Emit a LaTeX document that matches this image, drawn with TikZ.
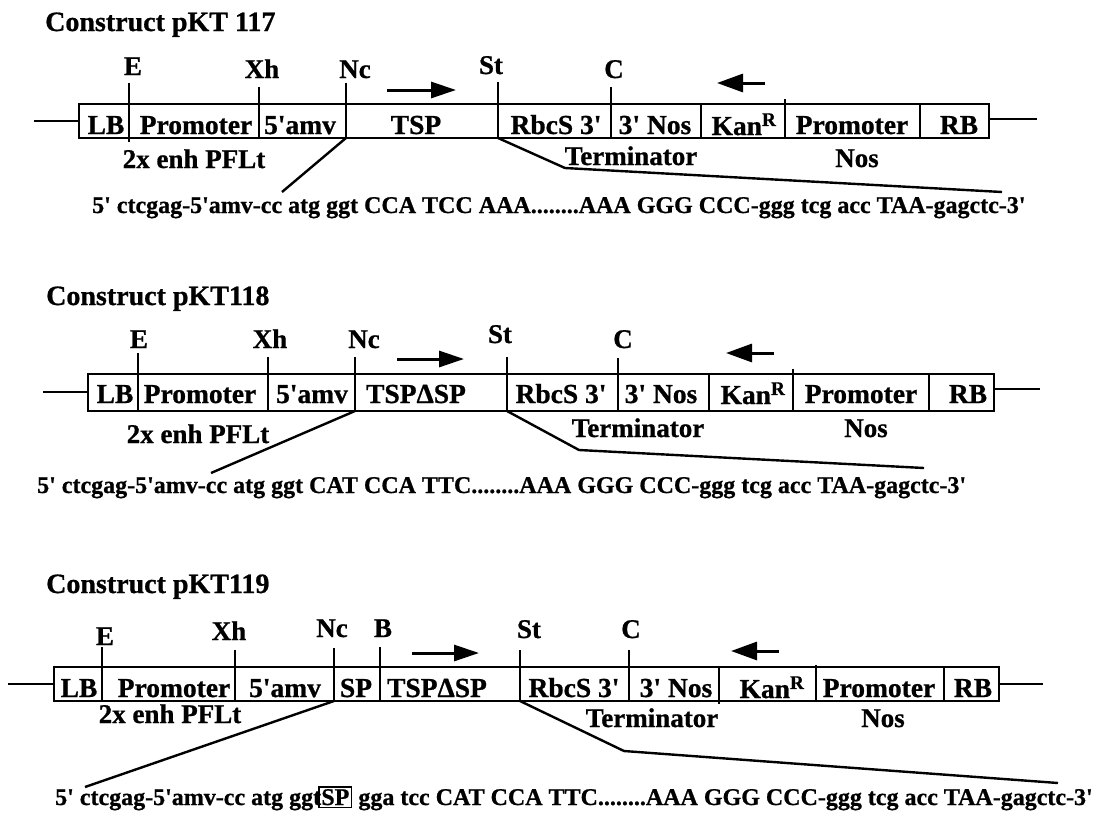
\documentclass[tikz,border=0pt]{standalone}
\usepackage{fontspec}
\usepackage{tikz}
\usetikzlibrary{arrows.meta}
\newfontfamily\labfont{Liberation Serif}[BoldFeatures={FakeBold=0.8}]

\begin{document}
\begin{tikzpicture}[x=1pt, y=-1pt]
\tikzstyle{heading} = [anchor=base west, inner sep=0pt, font=\labfont\bfseries\fontsize{28}{32}\selectfont]
\tikzstyle{site} = [anchor=base, inner sep=0pt, font=\labfont\bfseries\fontsize{27}{30}\selectfont]
\tikzstyle{part} = [anchor=base, inner sep=0pt, font=\labfont\bfseries\fontsize{27.5}{30}\selectfont]
\tikzstyle{region} = [anchor=base, inner sep=0pt, font=\labfont\bfseries\fontsize{27}{30}\selectfont]
\tikzstyle{seq} = [anchor=base west, inner sep=0pt, font=\labfont\bfseries\fontsize{24}{28}\selectfont]
\tikzstyle{map} = [draw, line width=2pt]
\tikzstyle{zoomline} = [draw, line width=2.4pt]
\tikzstyle{fwd} = [draw, -{Triangle[length=25pt,width=16pt]}, line width=3pt]
\tikzstyle{rev} = [draw, -{Triangle[length=26pt,width=18pt]}, line width=3pt]

\useasboundingbox (0,0) rectangle (1105,814);
\setlength{\fboxsep}{1.5pt}
\setlength{\fboxrule}{1.6pt}

% ---------------- Construct pKT 117 ----------------
\node [heading] (TITLE_A) at (45,31) {Construct pKT 117};

% Restriction sites
\node [site] (E_A) at (133,75) {E};
\node [site] (XH_A) at (262,78) {Xh};
\node [site] (NC_A) at (355,78) {Nc};
\node [site] (ST_A) at (491,74) {St};
\node [site] (C_A) at (614,78) {C};

% Backbone and boxes
\draw [map] (34,121) -- (79,121);
\draw [map] (989,119) -- (1037,119);
\draw [map] (79,104) rectangle (989,138);
\draw [map] (129,83) -- (129,142);
\draw [map] (259,87) -- (259,138);
\draw [map] (346,83) -- (346,138);
\draw [map] (498,82) -- (498,138);
\draw [map] (611,87) -- (611,138);
\draw [map] (701,104) -- (701,138);
\draw [map] (785,99) -- (785,138);
\draw [map] (920,104) -- (920,138);

% Parts
\node [part] (LB_A) at (106,134) {LB};
\node [part] (PRO_A) at (196,134) {Promoter};
\node [part] (AMV_A) at (300,134) {5'amv};
\node [part] (TSP_A) at (416,134) {TSP};
\node [part] (RBCS_A) at (556,134) {RbcS 3'};
\node [part] (NOS3_A) at (655,134) {3' Nos};
\node [part] (KAN_A) at (744,135) {Kan\textsuperscript{R}};
\node [part] (PRO2_A) at (852,134) {Promoter};
\node [part] (RB_A) at (959,134) {RB};

\node [region] (ENH_A) at (194,168) {2x enh PFLt};
\node [region] (TERM_A) at (631,165) {Terminator};
\node [region] (NOSP_A) at (857,167) {Nos};

% Orientation arrows
\coordinate (F0_A) at (387,90); \coordinate (F1_A) at (456,90);
\coordinate (R0_A) at (765,83); \coordinate (R1_A) at (717,83);
\draw [fwd] (F0_A) -- (F1_A);
\draw [rev] (R0_A) -- (R1_A);

% Sequence
\node [seq] (SEQ_A) at (92,213) {5' ctcgag-5'amv-cc atg ggt CCA TCC AAA........AAA GGG CCC-ggg tcg acc TAA-gagctc-3'};
\coordinate (NCB_A) at (346,138); \coordinate (NCE_A) at (282,192);
\coordinate (STB_A) at (498,138); \coordinate (STK_A) at (565,168); \coordinate (STE_A) at (1002,192);
\draw [zoomline] (NCB_A) -- (NCE_A);
\draw [zoomline] (STB_A) -- (STK_A) -- (STE_A);

% ---------------- Construct pKT118 ----------------
\node [heading] (TITLE_B) at (46,305) {Construct pKT118};

% Restriction sites
\node [site] (E_B) at (139,348) {E};
\node [site] (XH_B) at (270,348) {Xh};
\node [site] (NC_B) at (364,348) {Nc};
\node [site] (ST_B) at (500,343) {St};
\node [site] (C_B) at (623,348) {C};

% Backbone and boxes
\draw [map] (43,392) -- (88,392);
\draw [map] (994,389) -- (1040,389);
\draw [map] (88,374) rectangle (994,411);
\draw [map] (137.5,353) -- (137.5,411);
\draw [map] (268,357) -- (268,411);
\draw [map] (355,357) -- (355,411);
\draw [map] (507,357) -- (507,411);
\draw [map] (618,358) -- (618,411);
\draw [map] (709,374) -- (709,411);
\draw [map] (793,369) -- (793,411);
\draw [map] (929,374) -- (929,411);

% Parts
\node [part] (LB_B) at (115,403) {LB};
\node [part] (PRO_B) at (200,403) {Promoter};
\node [part] (AMV_B) at (312,403) {5'amv};
\node [part] (TSP_B) at (416,403) {TSPΔSP};
\node [part] (RBCS_B) at (561,403) {RbcS 3'};
\node [part] (NOS3_B) at (661,403) {3' Nos};
\node [part] (KAN_B) at (753,404) {Kan\textsuperscript{R}};
\node [part] (PRO2_B) at (861,403) {Promoter};
\node [part] (RB_B) at (968,403) {RB};

\node [region] (ENH_B) at (198,443) {2x enh PFLt};
\node [region] (TERM_B) at (638,437) {Terminator};
\node [region] (NOSP_B) at (866,437) {Nos};

% Orientation arrows
\coordinate (F0_B) at (397,359); \coordinate (F1_B) at (464,359);
\coordinate (R0_B) at (774,353); \coordinate (R1_B) at (726,353);
\draw [fwd] (F0_B) -- (F1_B);
\draw [rev] (R0_B) -- (R1_B);

% Sequence
\node [seq] (SEQ_B) at (37,493) {5' ctcgag-5'amv-cc atg ggt CAT CCA TTC........AAA GGG CCC-ggg tcg acc TAA-gagctc-3'};
\coordinate (NCB_B) at (355,411); \coordinate (NCE_B) at (211,473);
\coordinate (STB_B) at (507,411); \coordinate (STK_B) at (579,450); \coordinate (STE_B) at (924,468);
\draw [zoomline] (NCB_B) -- (NCE_B);
\draw [zoomline] (STB_B) -- (STK_B) -- (STE_B);

% ---------------- Construct pKT119 ----------------
\node [heading] (TITLE_C) at (46,593) {Construct pKT119};

% Restriction sites
\node [site] (E_C) at (105,645) {E};
\node [site] (XH_C) at (229,640) {Xh};
\node [site] (NC_C) at (332,637) {Nc};
\node [site] (B_C) at (383,637) {B};
\node [site] (ST_C) at (529,638) {St};
\node [site] (C_C) at (631,638) {C};

% Backbone and boxes
\draw [map] (8,684) -- (54,684);
\draw [map] (999,684) -- (1043,684);
\draw [map] (54,667) rectangle (999,701);
\draw [map] (102,647) -- (102,701);
\draw [map] (235,650) -- (235,701);
\draw [map] (334,648) -- (334,701);
\draw [map] (380,647) -- (380,701);
\draw [map] (520,650) -- (520,701);
\draw [map] (629,650) -- (629,701);
\draw [map] (719,667) -- (719,704);
\draw [map] (816,665) -- (816,701);
\draw [map] (944,667) -- (944,701);

% Parts
\node [part] (LB_C) at (79,697) {LB};
\node [part] (PRO_C) at (174,697) {Promoter};
\node [part] (AMV_C) at (285,697) {5'amv};
\node [part] (SP_C) at (356,697) {SP};
\node [part] (TSP_C) at (437,697) {TSPΔSP};
\node [part] (RBCS_C) at (574,697) {RbcS 3'};
\node [part] (NOS3_C) at (676,697) {3' Nos};
\node [part] (KAN_C) at (772,698) {Kan\textsuperscript{R}};
\node [part] (PRO2_C) at (879,697) {Promoter};
\node [part] (RB_C) at (973,697) {RB};

\node [region] (ENH_C) at (170,723) {2x enh PFLt};
\node [region] (TERM_C) at (652,727) {Terminator};
\node [region] (NOSP_C) at (883,727) {Nos};

% Orientation arrows
\coordinate (F0_C) at (412,653); \coordinate (F1_C) at (479,653);
\coordinate (R0_C) at (779,651); \coordinate (R1_C) at (731,651);
\draw [fwd] (F0_C) -- (F1_C);
\draw [rev] (R0_C) -- (R1_C);

% Sequence
\node [seq] (SEQ_C) at (55,805) {5' ctcgag-5'amv-cc atg ggt\hspace{-0.12em}\fbox{SP} gga tcc CAT CCA TTC........AAA GGG CCC-ggg tcg acc TAA-gagctc-3'};
\coordinate (NCB_C) at (334,701); \coordinate (NCE_C) at (85,787);
\coordinate (STB_C) at (520,701); \coordinate (STK_C) at (624,751); \coordinate (STE_C) at (1058,783);
\draw [zoomline] (NCB_C) -- (NCE_C);
\draw [zoomline] (STB_C) -- (STK_C) -- (STE_C);

\end{tikzpicture}
\end{document}
